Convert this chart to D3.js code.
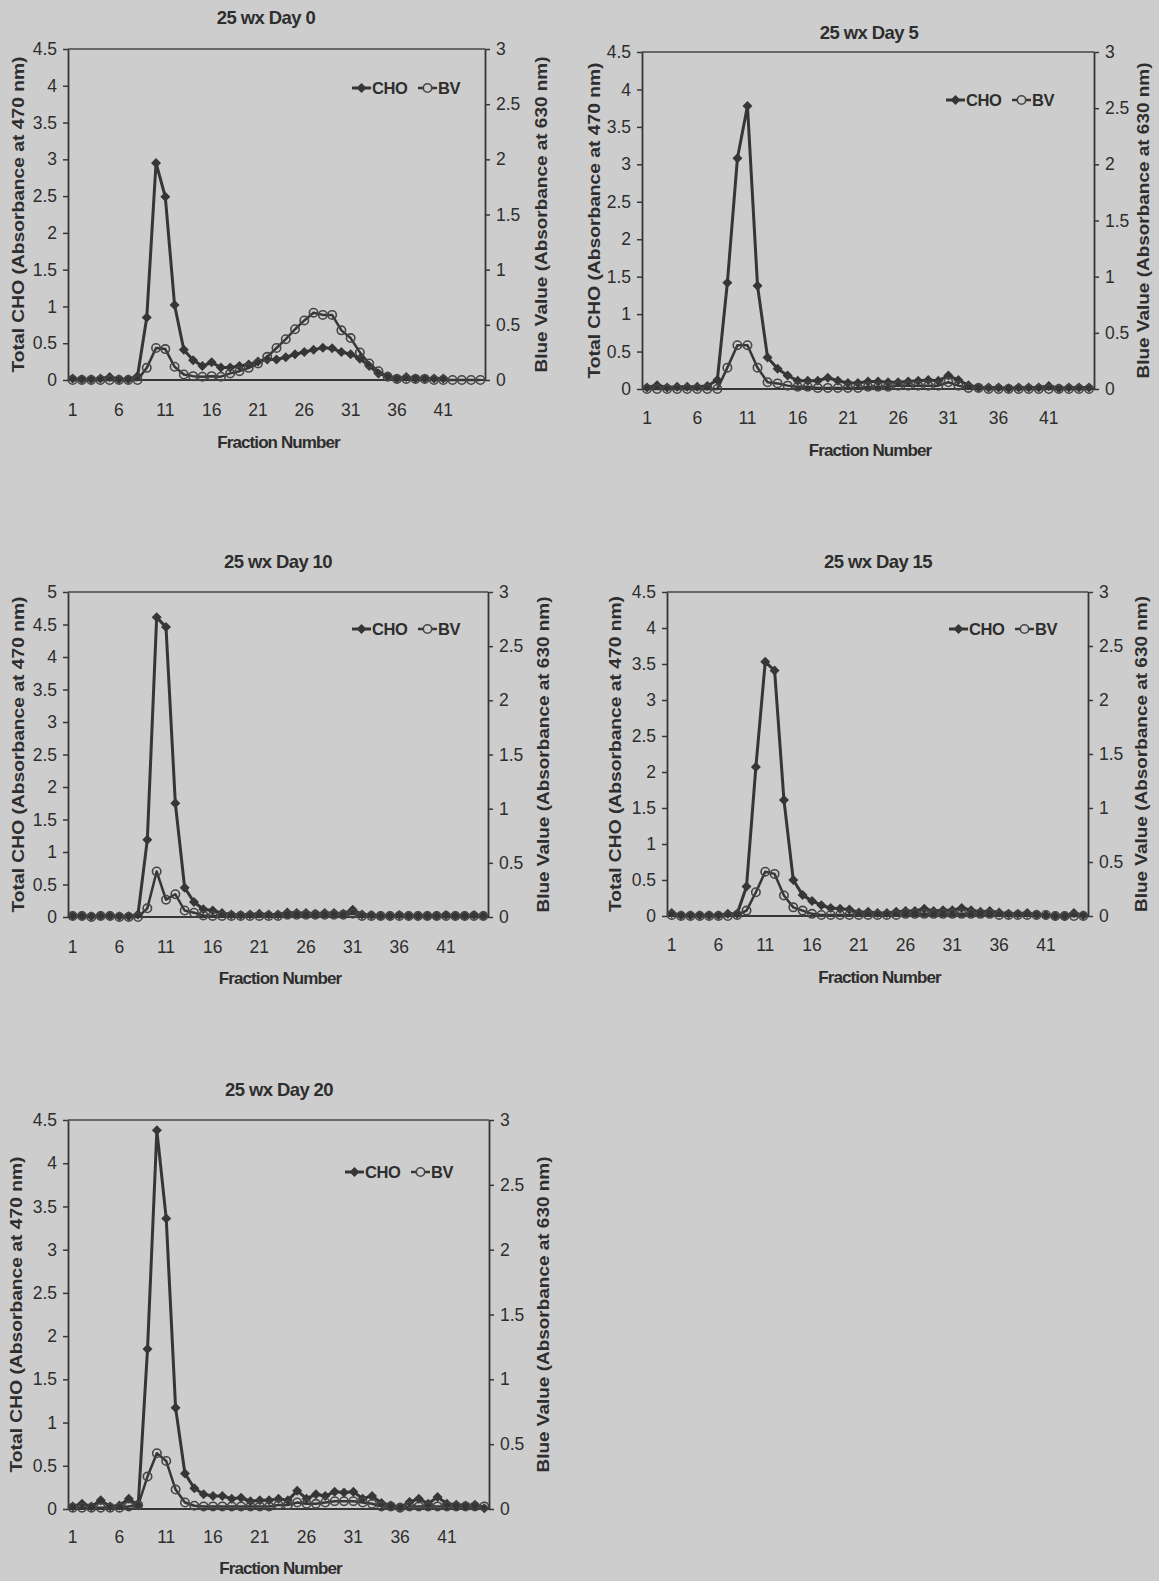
<!DOCTYPE html>
<html>
<head>
<meta charset="utf-8">
<script src="https://cdn.jsdelivr.net/npm/d3@7"></script>
<style>
  html, body { margin: 0; padding: 0; background: #cdcdcd; }
  svg { display: block; }
  text { font-family: "Liberation Sans", Arial, sans-serif; fill: #2e2e2e; }
</style>
</head>
<body>
<svg id="chart" width="1159" height="1581"></svg>
<script>
// ---------------- data ----------------
const fractions = d3.range(1, 46);
const xTickValues = [1, 6, 11, 16, 21, 26, 31, 36, 41];
const leftTicks45 = [0, 0.5, 1, 1.5, 2, 2.5, 3, 3.5, 4, 4.5];
const leftTicks5 = [0, 0.5, 1, 1.5, 2, 2.5, 3, 3.5, 4, 4.5, 5];
const rightTicks = [0, 0.5, 1, 1.5, 2, 2.5, 3];
const seriesNames = ["CHO", "BV"];
const titles = ["25 wx Day 0", "25 wx Day 5", "25 wx Day 10", "25 wx Day 15", "25 wx Day 20"];
const xAxisTitle = "Fraction Number";
const leftAxisTitle = "Total CHO (Absorbance at 470 nm)";
const rightAxisTitle = "Blue Value (Absorbance at 630 nm)";

const day0CHO = [0.02,0.01,0.01,0.02,0.04,0.01,0.01,0.05,0.85,2.95,2.49,1.02,0.41,0.27,0.19,0.24,0.17,0.17,0.19,0.21,0.25,0.28,0.28,0.31,0.35,0.38,0.41,0.44,0.43,0.38,0.35,0.29,0.19,0.09,0.05,0.02,0.04,0.02,0.02,0.02,0.02,null,null,null,null];
const day0BV  = [0,0,0,0,0,0,0,0,0.11,0.29,0.28,0.12,0.05,0.035,0.03,0.035,0.03,0.06,0.08,0.11,0.15,0.21,0.29,0.37,0.46,0.54,0.61,0.59,0.59,0.45,0.38,0.25,0.15,0.08,0.03,0.01,0.01,0.01,0.01,0,0,0,0,0,0];

const day5CHO = [0.02,0.05,0.02,0.03,0.03,0.03,0.04,0.12,1.42,3.08,3.78,1.38,0.42,0.27,0.18,0.11,0.11,0.11,0.15,0.11,0.08,0.08,0.10,0.10,0.09,0.09,0.10,0.11,0.12,0.11,0.18,0.12,0.05,0.02,0.02,0.02,0.01,0.02,0.02,0.02,0.04,0.01,0.02,0.02,0.02];
const day5BV  = [0,0,0,0,0,0,0,0,0.19,0.39,0.39,0.19,0.06,0.05,0.03,0.02,0.02,0.01,0.01,0.01,0.01,0.01,0.02,0.02,0.02,0.03,0.03,0.03,0.03,0.03,0.06,0.03,0.01,0.01,0,0,0,0,0,0,0,0,0,0,0];

const day10CHO = [0.02,0.02,0.01,0.02,0.02,0.01,0.01,0.04,1.19,4.61,4.46,1.75,0.45,0.23,0.12,0.10,0.06,0.04,0.03,0.04,0.05,0.04,0.04,0.07,0.06,0.06,0.05,0.06,0.06,0.05,0.11,0.04,0.03,0.02,0.02,0.03,0.02,0.02,0.02,0.02,0.03,0.02,0.02,0.03,0.02];
const day10BV  = [0.01,0.01,0,0.01,0.01,0,0,0,0.08,0.42,0.16,0.21,0.06,0.04,0.015,0.01,0.01,0.01,0.01,0.01,0.01,0.01,0.01,0.02,0.02,0.02,0.02,0.02,0.02,0.02,0.03,0.01,0.01,0.01,0.01,0.01,0.01,0.01,0.01,0.01,0.01,0.01,0.01,0.01,0.01];

const day15CHO = [0.04,0.01,0.01,0.01,0.01,0.01,0.03,0.03,0.41,2.07,3.53,3.41,1.61,0.50,0.29,0.21,0.15,0.11,0.10,0.09,0.05,0.06,0.04,0.04,0.06,0.07,0.07,0.10,0.07,0.08,0.08,0.11,0.08,0.06,0.07,0.05,0.03,0.03,0.04,0.02,0.01,0,0,0.04,0.01];
const day15BV  = [0.01,0,0,0,0,0,0,0.01,0.05,0.22,0.41,0.39,0.19,0.08,0.05,0.02,0.01,0.01,0.01,0.01,0.01,0.01,0.01,0.01,0.01,0.02,0.02,0.02,0.02,0.02,0.02,0.02,0.02,0.02,0.02,0.01,0.01,0.01,0.01,0.01,0.01,0,0,0,0];

const day20CHO = [0.03,0.06,0.03,0.10,0.03,0.04,0.12,0.04,1.85,4.38,3.36,1.17,0.41,0.24,0.17,0.15,0.15,0.12,0.13,0.09,0.10,0.10,0.12,0.10,0.21,0.12,0.17,0.15,0.20,0.19,0.20,0.12,0.15,0.07,0.04,0.02,0.08,0.12,0.06,0.14,0.06,0.05,0.04,0.05,0.01];
const day20BV  = [0.01,0.01,0.01,0.01,0.01,0.01,0.02,0.03,0.25,0.43,0.37,0.15,0.05,0.025,0.02,0.02,0.02,0.02,0.02,0.02,0.02,0.02,0.03,0.03,0.05,0.04,0.04,0.05,0.06,0.06,0.06,0.05,0.04,0.02,0.02,0.01,0.02,0.02,0.02,0.02,0.02,0.02,0.02,0.02,0.02];

// ---------------- layout (positions only) ----------------
const panels = [
  { title: titles[0], cho: day0CHO,  bv: day0BV,  yMax: 4.5, ticks: leftTicks45,
    left: 68,  right: 485,  top: 49,   bottom: 380,  titleX: 266, titleY: 18,
    legX: 352, legY: 88,  xTickY: 410, xLabY: 442, lLabX: 18,  rLabX: 541 },
  { title: titles[1], cho: day5CHO,  bv: day5BV,  yMax: 4.5, ticks: leftTicks45,
    left: 642, right: 1094, top: 52,   bottom: 389,  titleX: 869, titleY: 33,
    legX: 946, legY: 100, xTickY: 418, xLabY: 450, lLabX: 594, rLabX: 1143 },
  { title: titles[2], cho: day10CHO, bv: day10BV, yMax: 5,   ticks: leftTicks5,
    left: 68,  right: 488,  top: 592,  bottom: 917,  titleX: 278, titleY: 562,
    legX: 352, legY: 629, xTickY: 947, xLabY: 978, lLabX: 18,  rLabX: 543 },
  { title: titles[3], cho: day15CHO, bv: day15BV, yMax: 4.5, ticks: leftTicks45,
    left: 667, right: 1088, top: 592,  bottom: 916,  titleX: 878, titleY: 562,
    legX: 949, legY: 629, xTickY: 945, xLabY: 977, lLabX: 615, rLabX: 1141 },
  { title: titles[4], cho: day20CHO, bv: day20BV, yMax: 4.5, ticks: leftTicks45,
    left: 68,  right: 489,  top: 1120, bottom: 1509, titleX: 279, titleY: 1090,
    legX: 345, legY: 1172, xTickY: 1537, xLabY: 1568, lLabX: 16, rLabX: 543 }
];

const INK = "#363636";
const BG = "#cdcdcd";
const svg = d3.select("#chart");
svg.append("rect").attr("width", 1159).attr("height", 1581).attr("fill", BG);

const diamond = r => `M0,${-r}L${r},0L0,${r}L${-r},0Z`;

function drawPanel(p) {
  const g = svg.append("g");
  const x = d3.scaleBand().domain(fractions).range([p.left, p.right]);
  const cx = f => x(f) + x.bandwidth() / 2;
  const yL = d3.scaleLinear().domain([0, p.yMax]).range([p.bottom, p.top]);
  const yR = d3.scaleLinear().domain([0, 3]).range([p.bottom, p.top]);

  // plot frame (top border)
  g.append("line").attr("x1", p.left).attr("x2", p.right)
    .attr("y1", p.top).attr("y2", p.top)
    .attr("stroke", "#454545").attr("stroke-width", 1.6);

  const la = g.append("g").attr("transform", `translate(${p.left},0)`)
    .call(d3.axisLeft(yL).tickValues(p.ticks).tickSize(5).tickSizeOuter(0).tickFormat(d3.format("")).tickPadding(6));
  const ra = g.append("g").attr("transform", `translate(${p.right},0)`)
    .call(d3.axisRight(yR).tickValues(rightTicks).tickSize(5).tickSizeOuter(0).tickFormat(d3.format("")).tickPadding(6));
  const ba = g.append("g").attr("transform", `translate(0,${p.bottom})`)
    .call(d3.axisBottom(x).tickValues(xTickValues).tickSize(0).tickSizeOuter(0));
  ba.select(".domain").remove();
  ba.selectAll("text").attr("y", p.xTickY - p.bottom).attr("dy", "0.35em");

  [la, ra, ba].forEach(a => {
    a.selectAll(".domain").attr("stroke", INK).attr("stroke-width", 1.8);
    a.selectAll(".tick line").attr("stroke", INK).attr("stroke-width", 1.5);
    a.selectAll("text").style("font-size", "17.5px").attr("fill", "#2e2e2e")
      .style("font-family", '"Liberation Sans", Arial, sans-serif');
  });

  g.append("line").attr("x1", p.left).attr("x2", p.right)
    .attr("y1", yL(0)).attr("y2", yL(0))
    .attr("stroke", INK).attr("stroke-width", 1.8);

  // series
  const lineL = d3.line().defined(d => d.v != null).x(d => cx(d.f)).y(d => yL(d.v));
  const lineR = d3.line().defined(d => d.v != null).x(d => cx(d.f)).y(d => yR(d.v));
  const choPts = fractions.map((f, i) => ({ f, v: p.cho[i] }));
  const bvPts = fractions.map((f, i) => ({ f, v: p.bv[i] }));

  g.append("path").datum(choPts).attr("d", lineL)
    .attr("fill", "none").attr("stroke", INK).attr("stroke-width", 3)
    .attr("stroke-linejoin", "round");
  g.selectAll(".cho").data(choPts.filter(d => d.v != null)).join("path")
    .attr("class", "cho")
    .attr("transform", d => `translate(${cx(d.f)},${yL(d.v)})`)
    .attr("d", diamond(5)).attr("fill", INK);

  g.append("path").datum(bvPts).attr("d", lineR)
    .attr("fill", "none").attr("stroke", INK).attr("stroke-width", 2.5)
    .attr("stroke-linejoin", "round");
  g.selectAll(".bv").data(bvPts.filter(d => d.v != null)).join("circle")
    .attr("class", "bv")
    .attr("cx", d => cx(d.f)).attr("cy", d => yR(d.v)).attr("r", 4.2)
    .attr("fill", "none").attr("stroke", "#454545").attr("stroke-width", 1.6);

  // title
  g.append("text").attr("x", p.titleX).attr("y", p.titleY).attr("dy", "0.35em")
    .attr("text-anchor", "middle").style("font-size", "18.5px").style("font-weight", "bold")
    .style("letter-spacing", "-0.6px").text(p.title);

  // axis titles
  g.append("text").attr("x", (p.left + p.right) / 2 + 2).attr("y", p.xLabY).attr("dy", "0.35em")
    .attr("text-anchor", "middle").style("font-size", "17px").style("font-weight", "bold")
    .style("letter-spacing", "-0.9px").text(xAxisTitle);
  const cy = (p.top + p.bottom) / 2;
  g.append("text").attr("transform", `translate(${p.lLabX},${cy}) rotate(-90)`).attr("dy", "0.35em")
    .attr("text-anchor", "middle").style("font-size", "17px").style("font-weight", "bold")
    .attr("textLength", 316).attr("lengthAdjust", "spacingAndGlyphs").text(leftAxisTitle);
  g.append("text").attr("transform", `translate(${p.rLabX},${cy}) rotate(-90)`).attr("dy", "0.35em")
    .attr("text-anchor", "middle").style("font-size", "17px").style("font-weight", "bold")
    .attr("textLength", 316).attr("lengthAdjust", "spacingAndGlyphs").text(rightAxisTitle);

  // legend
  const lg = g.append("g").attr("transform", `translate(${p.legX},${p.legY})`);
  lg.append("line").attr("x1", 0).attr("x2", 19).attr("stroke", INK).attr("stroke-width", 3);
  lg.append("path").attr("transform", "translate(9.5,0)").attr("d", diamond(5)).attr("fill", INK);
  lg.append("text").attr("x", 20).attr("dy", "0.35em").style("font-size", "16.5px")
    .style("font-weight", "bold").style("letter-spacing", "-0.4px").text(seriesNames[0]);
  lg.append("line").attr("x1", 66).attr("x2", 85).attr("stroke", INK).attr("stroke-width", 2.5);
  lg.append("circle").attr("cx", 75.5).attr("r", 4.2).attr("fill", BG)
    .attr("stroke", "#454545").attr("stroke-width", 1.6);
  lg.append("text").attr("x", 86).attr("dy", "0.35em").style("font-size", "16.5px")
    .style("font-weight", "bold").style("letter-spacing", "-0.4px").text(seriesNames[1]);
}

panels.forEach(drawPanel);
</script>
</body>
</html>
